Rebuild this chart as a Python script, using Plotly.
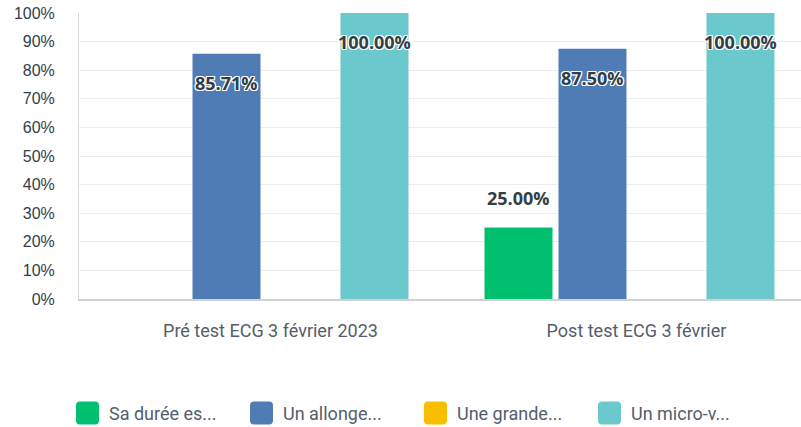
import plotly.graph_objects as go

# ---- data ----
categories = ["Pré test ECG 3 février 2023", "Post test ECG 3 février"]
series_names = ["Sa durée es...", "Un allonge...", "Une grande...", "Un micro-v..."]
sa_duree = [0, 25.00]
un_allonge = [85.71, 87.50]
une_grande = [0, 0]
un_micro = [100.00, 100.00]
series_values = [sa_duree, un_allonge, une_grande, un_micro]
colors = ["#00bf6f", "#507cb6", "#f9be00", "#6bc8cd"]

# ---- layout constants ----
W, H = 801, 427
ML, MR, MT, MB = 79, 0, 13, 128
X_RANGE = [-0.5041, 1.4686]
BARGAP = 0.1913
GROUPGAP = 0.0811
plot_w = W - ML - MR
px_per_unit = plot_w / (X_RANGE[1] - X_RANGE[0])
slot_px = (1 - BARGAP) / len(series_names) * px_per_unit

fig = go.Figure()
for name, vals, col in zip(series_names, series_values, colors):
    fig.add_trace(go.Bar(
        x=categories, y=vals, name=name,
        marker=dict(color=col, line=dict(width=0)),
        showlegend=False, hoverinfo="x+y+name",
    ))

label_font = dict(family="Open Sans", size=18, color="#333e48", weight="bold",
                  shadow="-1px -1px 0 #fff, 1px -1px 0 #fff, -1px 1px 0 #fff, 1px 1px 0 #fff, 0 1px 0 #fff, 0 -1px 0 #fff, 1px 0 0 #fff, -1px 0 0 #fff")
annotations = []
n = len(series_names)
for i, vals in enumerate(series_values):
    for cat, v in zip(categories, vals):
        if v <= 0:
            continue
        annotations.append(dict(
            x=cat, y=v, xref="x", yref="y", text=f"{v:.2f}%",
            showarrow=False, font=label_font,
            xshift=(i - (n - 1) / 2) * slot_px,
            yshift=-29 if v >= 50 else 30,
        ))

# custom legend (large rounded swatches)
shapes = []
leg_start_px, leg_pitch, sw = 76, 174, 23
leg_y_px = 413
leg_y = (H - MB - leg_y_px) / (H - MT - MB)
r = 4
h = sw / 2
path = (f"M{-h + r},{-h} L{h - r},{-h} Q{h},{-h} {h},{-h + r} L{h},{h - r} Q{h},{h} {h - r},{h} "
        f"L{-h + r},{h} Q{-h},{h} {-h},{h - r} L{-h},{-h + r} Q{-h},{-h} {-h + r},{-h} Z")
for i, (name, col) in enumerate(zip(series_names, colors)):
    cx_px = leg_start_px + i * leg_pitch + h
    cx = (cx_px - ML) / plot_w
    shapes.append(dict(type="path", xref="paper", yref="paper",
                       xsizemode="pixel", ysizemode="pixel",
                       xanchor=cx, yanchor=leg_y, path=path,
                       fillcolor=col, line=dict(width=0), layer="above"))
    annotations.append(dict(x=(cx_px + h + 8 - ML) / plot_w, y=leg_y, xref="paper", yref="paper",
                            text=name, showarrow=False, xanchor="left", yanchor="middle",
                            font=dict(family="Roboto", size=18, color="#545e6b")))

fig.update_layout(
    width=W, height=H,
    margin=dict(l=ML, r=MR, t=MT, b=MB),
    paper_bgcolor="white", plot_bgcolor="white",
    barmode="group", bargap=BARGAP, bargroupgap=GROUPGAP,
    annotations=annotations, shapes=shapes,
    showlegend=False,
    xaxis=dict(type="category", categoryorder="array", categoryarray=categories,
               range=X_RANGE, showline=True, linecolor="#cfd1d3", linewidth=2,
               showgrid=False, ticks="", ticklabelshift=7, ticklabelstandoff=14,
               tickfont=dict(family="Roboto", size=18, color="#545e6b")),
    yaxis=dict(range=[0, 100], dtick=10, ticksuffix="%", showgrid=True,
               gridcolor="#ececec", gridwidth=1, zeroline=False,
               showline=True, linecolor="#d6d8da", linewidth=1, ticks="",
               ticklabelstandoff=20,
               tickfont=dict(family="Liberation Sans", size=16, color="#333e48")),
)

fig.write_html("out.html", config={"displayModeBar": False},
               post_script="document.body.style.margin='0px';document.body.style.overflow='hidden';")
